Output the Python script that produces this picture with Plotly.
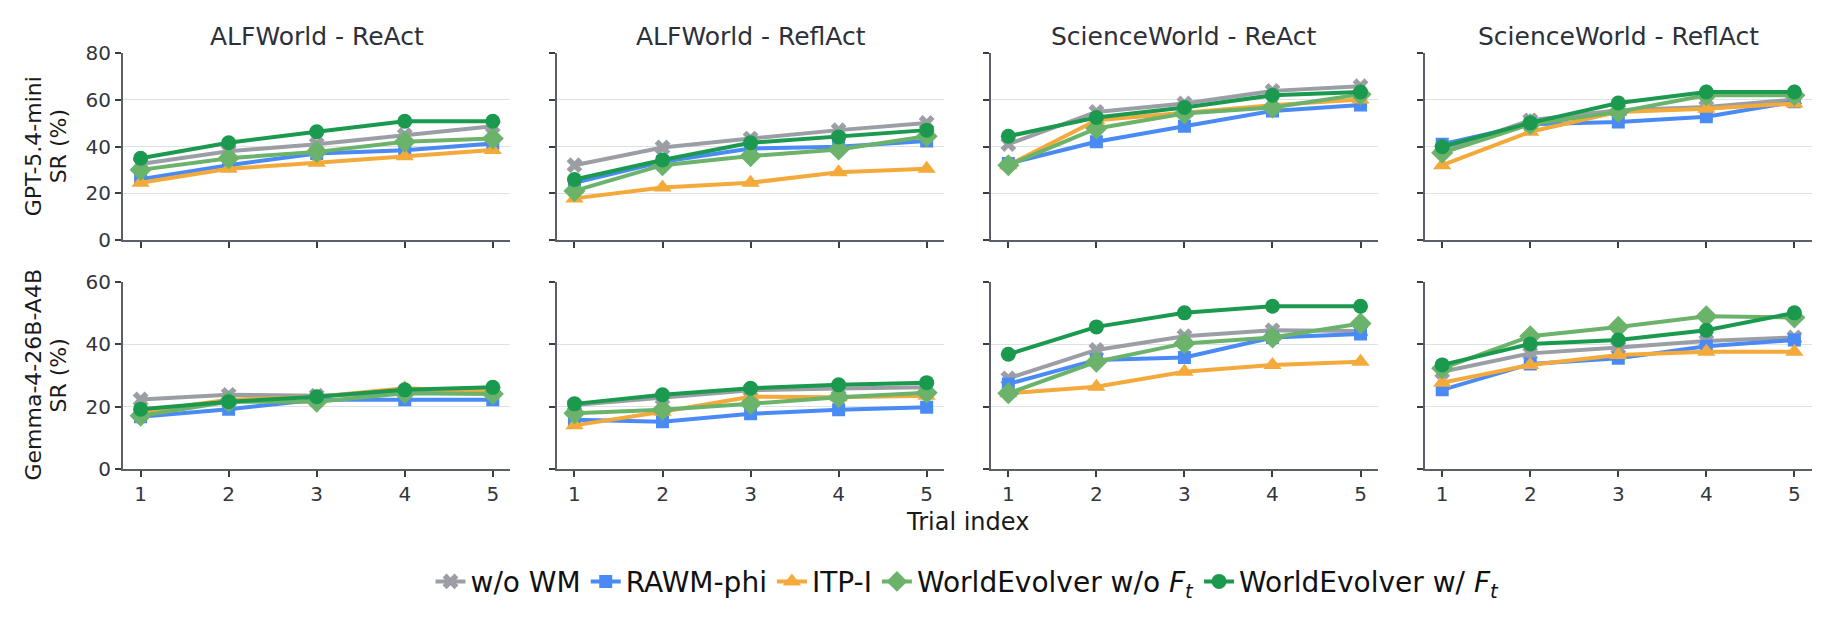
import plotly.graph_objects as go

trials = [1, 2, 3, 4, 5]
panel_titles = ["ALFWorld - ReAct", "ALFWorld - ReflAct", "ScienceWorld - ReAct", "ScienceWorld - ReflAct"]
row_titles = ["GPT-5.4-mini", "Gemma-4-26B-A4B"]
series_names = ["w/o WM", "RAWM-phi", "ITP-I",
                "WorldEvolver w/o <i>F</i><sub><i>t</i></sub>",
                "WorldEvolver w/ <i>F</i><sub><i>t</i></sub>"]

# GPT-5.4-mini row: [panel][trial] values per series
gpt_wo_wm = [[32.5, 38.0, 41.0, 44.8, 48.7], [32.0, 39.6, 43.4, 47.0, 50.1],
             [41.0, 54.8, 58.4, 63.8, 65.8], [38.4, 51.2, 55.5, 56.9, 60.1]]
gpt_rawm = [[26.0, 32.0, 37.0, 38.4, 41.3], [24.5, 33.5, 39.1, 39.9, 42.4],
            [32.7, 42.0, 48.7, 55.2, 57.7], [41.0, 49.5, 50.5, 52.7, 59.1]]
gpt_itp = [[24.5, 30.5, 33.0, 35.8, 38.5], [17.8, 22.5, 24.5, 29.0, 30.5],
           [32.0, 51.2, 54.4, 57.7, 60.1], [32.0, 46.3, 54.8, 56.2, 58.4]]
gpt_we_wo = [[30.0, 35.0, 37.7, 42.0, 43.4], [21.0, 32.0, 35.9, 38.7, 44.4],
             [32.0, 47.7, 54.1, 56.7, 62.3], [37.3, 49.5, 54.8, 61.9, 61.9]]
gpt_we_w = [[35.0, 41.6, 46.3, 50.8, 50.8], [25.9, 34.2, 41.6, 44.1, 47.0],
            [44.4, 52.4, 56.7, 61.9, 63.3], [39.9, 50.1, 58.6, 63.3, 63.3]]

# Gemma-4-26B-A4B row
gem_wo_wm = [[22.3, 23.8, 23.5, 24.5, 24.8], [20.5, 22.8, 25.3, 25.8, 26.2],
             [29.1, 38.2, 42.6, 44.5, 44.3], [31.2, 37.1, 39.0, 41.1, 42.2]]
gem_rawm = [[16.8, 19.2, 22.2, 22.2, 22.2], [15.8, 15.2, 17.7, 19.0, 19.8],
            [27.3, 35.0, 35.8, 42.2, 43.3], [25.4, 33.7, 35.5, 39.4, 41.4]]
gem_itp = [[18.4, 22.2, 23.2, 25.9, 24.8], [14.0, 18.4, 23.2, 23.0, 23.5],
           [24.3, 26.4, 31.2, 33.4, 34.4], [27.7, 33.4, 36.6, 37.6, 37.6]]
gem_we_wo = [[17.1, 21.6, 21.6, 24.3, 24.1], [17.9, 19.0, 20.9, 23.0, 24.5],
             [24.3, 34.4, 40.3, 42.2, 46.7], [32.3, 42.6, 45.6, 49.0, 48.6]]
gem_we_w = [[19.2, 21.6, 23.2, 25.4, 26.2], [20.9, 23.8, 25.9, 27.0, 27.7],
            [36.8, 45.6, 50.1, 52.2, 52.2], [33.4, 40.1, 41.4, 44.5, 50.1]]

y_ranges = [[0, 80], [0, 60]]
y_ticks = [[0, 20, 40, 60, 80], [0, 20, 40, 60]]

rows_data = [
    [gpt_wo_wm, gpt_rawm, gpt_itp, gpt_we_wo, gpt_we_w],
    [gem_wo_wm, gem_rawm, gem_itp, gem_we_wo, gem_we_w],
]

colors = ["#9b9ea4", "#4a8af4", "#f4a93b", "#6bb36b", "#1b9a4f"]
symbols = ["x", "square", "triangle-up", "diamond", "circle"]
msizes = [14, 13, 16, 17, 15]

W, H = 1832, 628
ML, MR, MT, MB = 123, 20, 53, 159
PW = W - ML - MR
PH = H - MT - MB

gapx = 0.0275
wcol = (1 - 3 * gapx) / 4
x_domains = [[k * (wcol + gapx), k * (wcol + gapx) + wcol] for k in range(4)]
y_domains = [[0.5505, 1.0], [0.0, 0.4495]]

fig = go.Figure()
axis_font = dict(family="DejaVu Sans", size=20, color="#33363d")

for r in range(2):
    for c in range(4):
        idx = r * 4 + c + 1
        xa = "x" if idx == 1 else f"x{idx}"
        ya = "y" if idx == 1 else f"y{idx}"
        for s in range(5):
            fig.add_trace(go.Scatter(
                x=trials, y=rows_data[r][s][c], mode="lines+markers",
                name=series_names[s], legendgroup=series_names[s],
                showlegend=(idx == 1),
                line=dict(color=colors[s], width=4),
                marker=dict(symbol=symbols[s], size=msizes[s], color=colors[s],
                            line=dict(width=0)),
                xaxis=xa, yaxis=ya,
            ))
        xkey = "xaxis" if idx == 1 else f"xaxis{idx}"
        ykey = "yaxis" if idx == 1 else f"yaxis{idx}"
        fig.layout[xkey] = dict(
            domain=x_domains[c], anchor=ya, range=[0.8, 5.2],
            tickvals=trials, showticklabels=(r == 1), showgrid=False,
            zeroline=False, showline=True, linecolor="#5b5f69", linewidth=2,
            ticks="outside", ticklen=6, tickwidth=2, tickcolor="#3a3d44",
            tickfont=axis_font,
        )
        fig.layout[ykey] = dict(
            domain=y_domains[r], anchor=xa, range=y_ranges[r],
            tickvals=y_ticks[r], showticklabels=(c == 0), showgrid=True,
            gridcolor="#dde1e8", gridwidth=1, zeroline=False, showline=True,
            linecolor="#5b5f69", linewidth=2, ticks="outside", ticklen=6,
            tickwidth=2, tickcolor="#3a3d44", tickfont=axis_font,
        )

annotations = []
for c in range(4):
    annotations.append(dict(
        text=panel_titles[c], xref="paper", yref="paper",
        x=(x_domains[c][0] + x_domains[c][1]) / 2, y=(H - MB - 36.7) / PH,
        xanchor="center", yanchor="middle", showarrow=False,
        font=dict(family="DejaVu Sans", size=25, color="#2d3039"),
    ))
row_centers = [(52.7 + 240) / 2, (281.7 + 469.3) / 2]
for r in range(2):
    yc = (H - MB - row_centers[r]) / PH
    annotations.append(dict(
        text=row_titles[r], xref="paper", yref="paper", x=(33 - ML) / PW, y=yc,
        xanchor="center", yanchor="middle", textangle=-90, showarrow=False,
        font=dict(family="DejaVu Sans", size=22, color="#1a1a1a"),
    ))
    annotations.append(dict(
        text="SR (%)", xref="paper", yref="paper", x=(58 - ML) / PW, y=yc,
        xanchor="center", yanchor="middle", textangle=-90, showarrow=False,
        font=dict(family="DejaVu Sans", size=22, color="#1a1a1a"),
    ))
annotations.append(dict(
    text="Trial index", xref="paper", yref="paper", x=0.5,
    y=(H - MB - 521.7) / PH, xanchor="center", yanchor="middle",
    showarrow=False, font=dict(family="DejaVu Sans", size=24, color="#1a1a1a"),
))

fig.update_layout(
    width=W, height=H,
    margin=dict(l=ML, r=MR, t=MT, b=MB),
    paper_bgcolor="white", plot_bgcolor="white",
    annotations=annotations,
    font=dict(family="DejaVu Sans", color="#1a1a1a"),
    legend=dict(
        orientation="h", x=0.5, xanchor="center",
        y=(H - MB - 581.7) / PH, yanchor="middle",
        font=dict(family="DejaVu Sans", size=28, color="#111111"),
        itemwidth=30, tracegroupgap=0,
    ),
)

fig.write_html("out.html")
